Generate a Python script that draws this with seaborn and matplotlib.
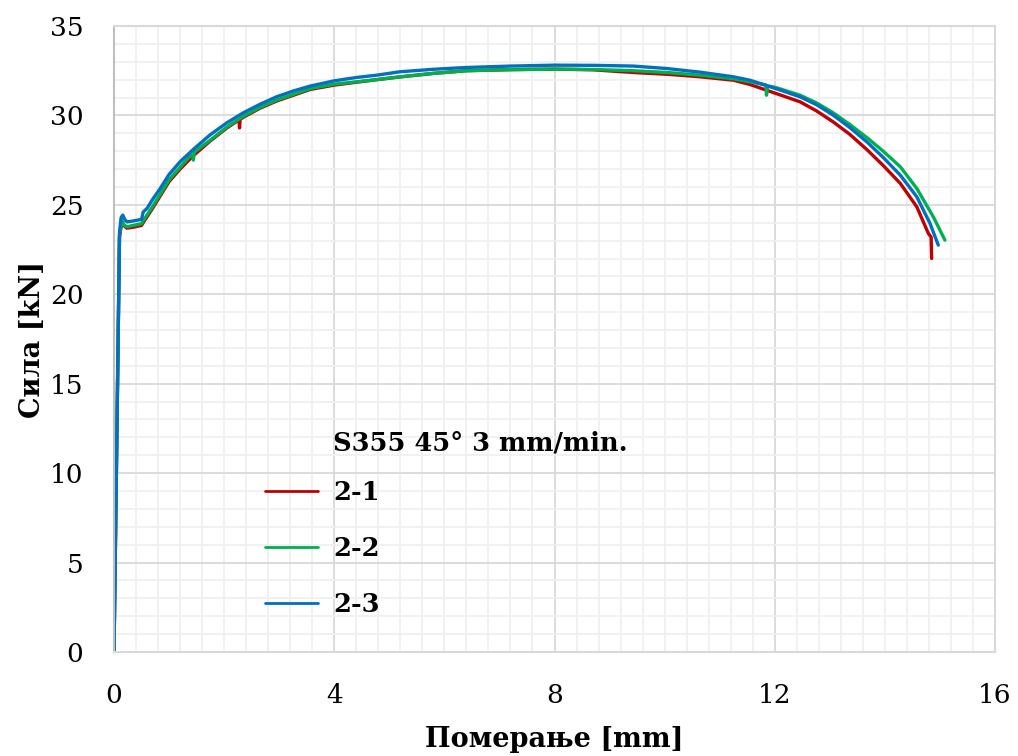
import numpy as np
import pandas as pd
import seaborn as sns
import matplotlib
matplotlib.use("Agg")
import matplotlib.pyplot as plt
from matplotlib.ticker import MultipleLocator
from matplotlib.lines import Line2D

# ---- data ----
x_21 = [0, 0.10, 0.14, 0.18, 0.23, 0.35, 0.50, 0.55, 0.70, 0.84, 1.0, 1.2, 1.44, 1.74, 2.05,
        2.27, 2.28, 2.29, 2.35, 2.65, 2.95, 3.56, 4.01, 4.77, 5.19, 5.8, 6.4, 7.2, 8.0, 8.7,
        9.43, 10.05, 10.64, 11.25, 11.55, 12.02, 12.46, 12.76, 13.06, 13.36, 13.67, 13.97,
        14.28, 14.58, 14.79, 14.84, 14.85]
y_21 = [0, 23.2, 24.0, 23.85, 23.7, 23.75, 23.85, 24.1, 24.8, 25.5, 26.3, 27.0, 27.75, 28.55, 29.3,
        29.75, 29.3, 29.78, 29.9, 30.4, 30.8, 31.45, 31.7, 32.0, 32.15, 32.35, 32.5, 32.56, 32.59, 32.55,
        32.4, 32.3, 32.16, 31.97, 31.73, 31.23, 30.76, 30.25, 29.64, 28.95, 28.1, 27.2,
        26.2, 24.89, 23.4, 23.2, 22.0]

x_22 = [0, 0.10, 0.14, 0.18, 0.23, 0.35, 0.50, 0.55, 0.70, 0.84, 1.0, 1.2, 1.43, 1.44, 1.46,
        1.74, 2.05, 2.35, 2.65, 2.95, 3.56, 4.01, 4.77, 5.19, 5.8, 6.4, 7.2, 8.0, 8.7, 9.43,
        10.05, 10.64, 11.25, 11.55, 11.84, 11.85, 11.87, 12.02, 12.46, 12.76, 13.06, 13.36,
        13.67, 13.97, 14.28, 14.58, 14.88, 15.09]
y_22 = [0, 23.3, 24.1, 23.9, 23.77, 23.85, 23.95, 24.2, 24.9, 25.6, 26.4, 27.1, 27.9, 27.5, 27.95,
        28.6, 29.35, 29.96, 30.45, 30.85, 31.5, 31.75, 32.0, 32.16, 32.35, 32.5, 32.56, 32.59, 32.57, 32.5,
        32.4, 32.25, 32.05, 31.88, 31.7, 31.13, 31.65, 31.56, 31.13, 30.7, 30.15, 29.5,
        28.77, 28.0, 27.13, 25.92, 24.33, 23.03]

x_23 = [0, 0.10, 0.13, 0.16, 0.20, 0.24, 0.35, 0.50, 0.53, 0.60, 0.70, 0.84, 1.0, 1.2, 1.44,
        1.74, 2.05, 2.35, 2.65, 2.95, 3.25, 3.56, 4.01, 4.4, 4.77, 5.19, 5.8, 6.4, 7.2, 8.0,
        8.7, 9.43, 10.05, 10.64, 11.25, 11.55, 12.02, 12.46, 12.76, 13.06, 13.36, 13.67,
        13.97, 14.28, 14.58, 14.82, 14.97]
y_23 = [0, 23.5, 24.3, 24.43, 24.15, 24.05, 24.1, 24.19, 24.6, 24.8, 25.3, 25.92, 26.7, 27.41, 28.1,
        28.9, 29.59, 30.15, 30.62, 31.04, 31.36, 31.64, 31.94, 32.12, 32.25, 32.44, 32.58, 32.68, 32.76, 32.81,
        32.8, 32.76, 32.62, 32.42, 32.16, 31.97, 31.5, 31.04, 30.6, 30.02, 29.33, 28.53,
        27.65, 26.66, 25.45, 23.96, 22.75]

series_names = ["2-1", "2-2", "2-3"]
legend_title = "S355 45° 3 mm/min."
x_label = "Померање [mm]"
y_label = "Сила [kN]"
x_ticks = [0, 4, 8, 12, 16]
y_ticks = [0, 5, 10, 15, 20, 25, 30, 35]

colors = {"2-1": "#C00000", "2-2": "#00B050", "2-3": "#0070C0"}

frames = []
for name, xs, ys in zip(series_names, [x_21, x_22, x_23], [y_21, y_22, y_23]):
    frames.append(pd.DataFrame({"x": xs, "y": ys, "s": name}))
df = pd.concat(frames, ignore_index=True)

sns.set_theme(style="white")
plt.rcParams["font.family"] = ["DejaVu Serif"]
plt.rcParams["text.color"] = "black"
plt.rcParams["axes.labelcolor"] = "black"

fig = plt.figure(figsize=(10.18, 7.56), dpi=100)
ax = fig.add_axes([114 / 1018, 1 - 652 / 756, (995 - 114) / 1018, (652 - 26) / 756])

sns.lineplot(data=df, x="x", y="y", hue="s", palette=colors, estimator=None,
             sort=False, linewidth=2.4, ax=ax, legend=False)

ax.set_xlim(0, 16)
ax.set_ylim(0, 35)
ax.set_xticks(x_ticks)
ax.set_yticks(y_ticks)
ax.xaxis.set_minor_locator(MultipleLocator(0.4))
ax.yaxis.set_minor_locator(MultipleLocator(1))
ax.grid(which="major", color="#D9D9D9", linewidth=1.3)
ax.grid(which="minor", color="#F0F0F0", linewidth=1.3)
ax.set_axisbelow(True)
ax.tick_params(which="both", length=0, labelsize=19, colors="black")
ax.tick_params(axis="x", pad=22)
ax.tick_params(axis="y", pad=22)
for side, c in [("left", "#BFBFBF"), ("bottom", "#D9D9D9"), ("top", "#D9D9D9"), ("right", "#D9D9D9")]:
    ax.spines[side].set_visible(True)
    ax.spines[side].set_color(c)
    ax.spines[side].set_linewidth(1.5)

ax.set_xlabel(x_label, fontsize=19.5, fontweight="bold", labelpad=13)
ax.set_ylabel(y_label, fontsize=19.5, fontweight="bold", labelpad=3)

handles = [Line2D([0], [0], color=colors[n], linewidth=2.0) for n in series_names]
leg = ax.legend(handles, series_names, loc="upper left",
                bbox_to_anchor=((242 - 114) / (995 - 114), (652 - 457) / (652 - 26)),
                frameon=False, handlelength=2.05, handletextpad=0.6, labelspacing=1.2,
                prop={"size": 18.5, "weight": "bold"})
ax.text((333 - 114) / (995 - 114), (652 - 443) / (652 - 26), legend_title,
        transform=ax.transAxes, fontsize=18.5, fontweight="bold", va="center", ha="left")

fig.savefig("out.png", dpi=100)
